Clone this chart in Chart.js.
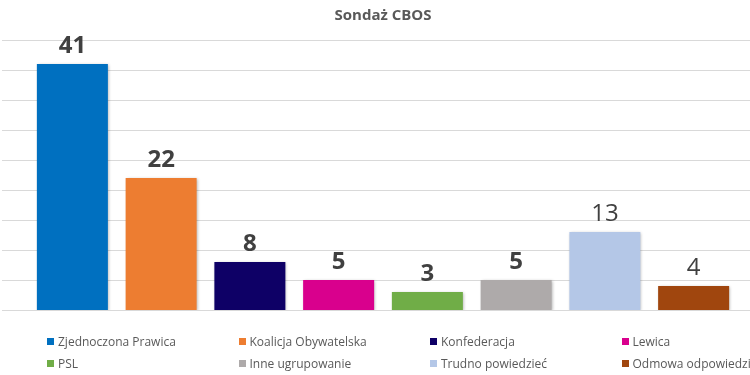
<!DOCTYPE html>
<html>
<head>
<meta charset="utf-8">
<script src="https://cdn.jsdelivr.net/npm/chart.js@4"></script>
<style>
    html, body { margin: 0; padding: 0; background: #fff; }
    #wrap { position: relative; width: 750px; height: 375px; overflow: hidden; }
    #legend {
        position: absolute; left: 47px; top: 330px;
        display: grid; grid-template-columns: repeat(4, 191.5px); grid-auto-rows: 22px;
        font-family: 'Open Sans', sans-serif; font-size: 12px; color: #595959;
        white-space: nowrap;
    }
    .item { display: flex; align-items: center; }
    .box { width: 7px; height: 7px; margin-right: 4px; flex: none; }
</style>
</head>
<body>
<div id="wrap">
    <canvas id="sondazChart" width="750" height="375"></canvas>
    <div id="legend"></div>
</div>
<script>
// Sondaż CBOS - poparcie w %
const parties = ['Zjednoczona Prawica', 'Koalicja Obywatelska', 'Konfederacja', 'Lewica',
                 'PSL', 'Inne ugrupowanie', 'Trudno powiedzieć', 'Odmowa odpowiedzi'];
const support = [41, 22, 8, 5, 3, 5, 13, 4];
const yMax = 45;
const yStep = 5;

const barColors = ['#0070C0', '#ED7D31', '#0E0066', '#D9008D', '#70AD47', '#AEAAAA', '#B4C7E7', '#A0460E'];
const labelWeights = ['bold', 'bold', 'bold', 'bold', 'bold', 'bold', 'normal', 'normal'];

// gridlines across the whole width, like in the original
const fullGrid = {
    id: 'fullGrid',
    beforeDatasetsDraw(chart) {
        const ctx = chart.ctx;
        const y = chart.scales.y;
        ctx.save();
        ctx.strokeStyle = '#d9d9d9';
        ctx.lineWidth = 1;
        for (let v = y.min; v <= y.max; v += yStep) {
            const py = Math.round(y.getPixelForValue(v)) + 0.5;
            ctx.beginPath();
            ctx.moveTo(2, py);
            ctx.lineTo(chart.width, py);
            ctx.stroke();
        }
        ctx.restore();
    }
};

// soft shadow under bars
const barShadow = {
    id: 'barShadow',
    beforeDatasetDraw(chart) {
        const ctx = chart.ctx;
        ctx.save();
        ctx.shadowColor = 'rgba(0,0,0,0.3)';
        ctx.shadowBlur = 3;
        ctx.shadowOffsetX = 1;
        ctx.shadowOffsetY = 1;
    },
    afterDatasetDraw(chart) {
        chart.ctx.restore();
    }
};

// value labels above bars
const valueLabels = {
    id: 'valueLabels',
    afterDatasetsDraw(chart) {
        const ctx = chart.ctx;
        const meta = chart.getDatasetMeta(0);
        ctx.save();
        ctx.fillStyle = '#404040';
        ctx.textAlign = 'center';
        ctx.textBaseline = 'alphabetic';
        meta.data.forEach((bar, i) => {
            ctx.font = labelWeights[i] + ' 24px "Open Sans"';
            ctx.fillText(support[i], bar.x, bar.y - 11);
        });
        ctx.restore();
    }
};

new Chart(document.getElementById('sondazChart'), {
    type: 'bar',
    data: {
        labels: parties,
        datasets: [{
            data: support,
            backgroundColor: barColors,
            borderWidth: 0,
            categoryPercentage: 0.8,
            barPercentage: 1.0
        }]
    },
    options: {
        responsive: false,
        animation: false,
        layout: { padding: { left: 28, right: 12, top: 0, bottom: 65 } },
        scales: {
            x: { display: false },
            y: { display: false, min: 0, max: yMax, ticks: { stepSize: yStep } }
        },
        plugins: {
            legend: { display: false },
            tooltip: { enabled: false },
            title: {
                display: true,
                text: 'Sondaż CBOS',
                color: '#595959',
                font: { family: 'Open Sans', size: 15, weight: 'bold' },
                padding: { top: 7, bottom: 15 }
            }
        }
    },
    plugins: [fullGrid, barShadow, valueLabels]
});

// legend in 4 columns
const legendDiv = document.getElementById('legend');
parties.forEach((name, i) => {
    const item = document.createElement('div');
    item.className = 'item';
    item.innerHTML = `<span class="box" style="background:${barColors[i]}"></span><span>${name}</span>`;
    legendDiv.appendChild(item);
});
</script>
</body>
</html>
